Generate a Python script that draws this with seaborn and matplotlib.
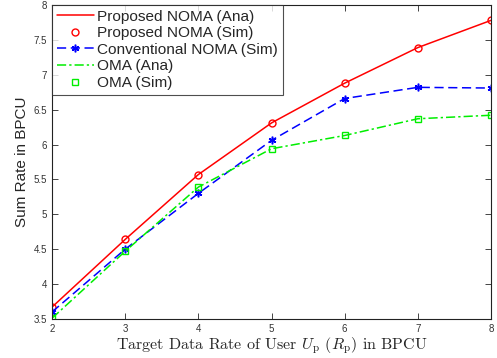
import numpy as np
import pandas as pd
import matplotlib
matplotlib.use("Agg")
import matplotlib.pyplot as plt
import seaborn as sns

rate_p = [2, 3, 4, 5, 6, 7, 8]
proposed_ana = [3.67, 4.64, 5.57, 6.31, 6.88, 7.39, 7.78]
proposed_sim = [3.67, 4.64, 5.57, 6.31, 6.88, 7.39, 7.78]
conventional_sim = [3.60, 4.50, 5.30, 6.06, 6.66, 6.82, 6.81]
oma_ana = [3.51, 4.47, 5.39, 5.94, 6.13, 6.37, 6.42]
oma_sim = [3.51, 4.47, 5.39, 5.94, 6.13, 6.37, 6.42]

sns.set_style("ticks")
plt.rcParams['font.family'] = ['Liberation Sans', 'DejaVu Sans']
plt.rcParams['mathtext.fontset'] = 'cm'

df = pd.DataFrame({'R': rate_p, 'pa': proposed_ana, 'ps': proposed_sim,
                   'cs': conventional_sim, 'oa': oma_ana, 'os': oma_sim})

fig = plt.figure(figsize=(4.97, 3.58), dpi=100)
ax = fig.add_axes([0.1046, 0.109, 0.8834, 0.877])

sns.lineplot(data=df, x='R', y='pa', ax=ax, color='red', lw=1.1,
             label='Proposed NOMA (Ana)')
sns.lineplot(data=df, x='R', y='ps', ax=ax, color='red', lw=0, marker='o',
             markersize=5, markerfacecolor='none', markeredgecolor='red',
             markeredgewidth=1.0, label='Proposed NOMA (Sim)')
sns.lineplot(data=df, x='R', y='cs', ax=ax, color='blue', lw=1.1,
             dashes=(6, 3), marker=(6, 2, 0), markersize=5.5,
             markeredgecolor='blue', markeredgewidth=1.1,
             label='Conventional NOMA (Sim)')
sns.lineplot(data=df, x='R', y='oa', ax=ax, color='#00ee00', lw=1.1,
             dashes=(6, 2, 1.5, 2), label='OMA (Ana)')
sns.lineplot(data=df, x='R', y='os', ax=ax, color='#00ee00', lw=0, marker='s',
             markersize=4.5, markerfacecolor='none', markeredgecolor='#00ee00',
             markeredgewidth=1.0, label='OMA (Sim)')

ax.set_xlim(2, 8)
ax.set_ylim(3.5, 8)
ax.set_xticks([2, 3, 4, 5, 6, 7, 8])
ax.set_yticks([3.5, 4, 4.5, 5, 5.5, 6, 6.5, 7, 7.5, 8])
ax.set_yticklabels(['3.5', '4', '4.5', '5', '5.5', '6', '6.5', '7', '7.5', '8'])
ax.tick_params(direction='in', top=True, right=True, labelsize=7,
               labelcolor='#333333', length=4, width=0.6)
for s in ax.spines.values():
    s.set_linewidth(0.8)
    s.set_color('#222222')

ax.set_xlabel(r'Target Data Rate of User $U_{\rm p}$ ($R_{\rm p}$) in BPCU',
              fontfamily='cmr10', fontsize=11.5, labelpad=1)
ax.set_ylabel('Sum Rate in BPCU', fontsize=11, labelpad=3)

leg = ax.legend(loc='upper left', fontsize=11.1, frameon=True, fancybox=False,
                edgecolor='#222222', borderaxespad=0, handlelength=2.4,
                handletextpad=0.25, labelspacing=0.17, borderpad=0.3)
leg.get_frame().set_linewidth(0.8)

fig.savefig('out.png', dpi=100)
